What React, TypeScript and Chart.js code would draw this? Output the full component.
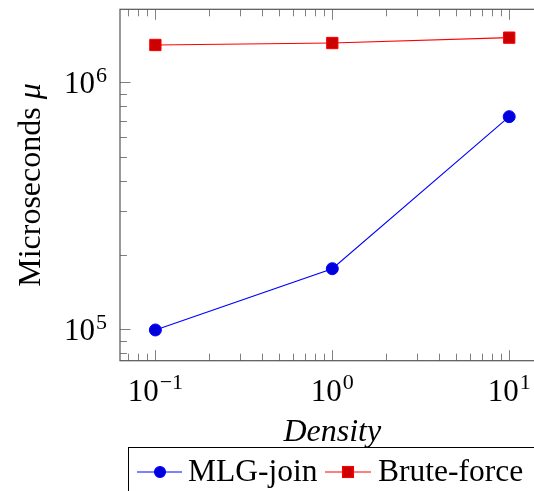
import React, { useEffect, useRef } from 'react';
import { Chart, registerables } from 'chart.js';

Chart.register(...registerables);

// ---- data ----
const densities = [0.1, 1, 10];
const mlgJoin = [9.94e4, 1.76e5, 7.26e5];
const bruteForce = [1.416e6, 1.442e6, 1.516e6];
const seriesLabels = ['MLG-join', 'Brute-force'];
const xTickExponents = [-1, 0, 1];
const yTickExponents = [5, 6];
const xTitle = 'Density';
const yTitleText = 'Microseconds';
const yTitleSymbol = 'μ';

// axis limits (log10)
const X_MIN = Math.pow(10, -1.2);
const X_MAX = Math.pow(10, 1.2);
const Y_MIN = Math.pow(10, 4.873);
const Y_MAX = Math.pow(10, 6.2955);

const SERIF = '"Liberation Serif", "DejaVu Serif", serif';
const AXIS_COLOR = '#555555';
const TICK_COLOR = '#808080';
const BLUE_LINE = '#0000ff';
const BLUE_FILL = '#0000dd';
const RED_LINE = '#ff0000';
const RED_FILL = '#cc0000';

const CANVAS_W = 560;
const CANVAS_H = 491;

function drawPow(ctx: CanvasRenderingContext2D, exp: number, x: number, baseline: number, align: 'center' | 'right') {
  const base = '10';
  const sup = exp < 0 ? '\u2212' + Math.abs(exp) : String(exp);
  ctx.font = `31px ${SERIF}`;
  const wb = ctx.measureText(base).width;
  ctx.font = `22px ${SERIF}`;
  const ws = ctx.measureText(sup).width;
  const total = wb + ws + 1;
  const sx = align === 'center' ? x - total / 2 : x - total;
  ctx.textAlign = 'left';
  ctx.textBaseline = 'alphabetic';
  ctx.font = `31px ${SERIF}`;
  ctx.fillText(base, sx, baseline);
  ctx.font = `22px ${SERIF}`;
  ctx.fillText(sup, sx + wb + 1, baseline - 11.5);
}

const axesPlugin = {
  id: 'pgfAxes',
  beforeDatasetsDraw(chart: any) {
    const { ctx, chartArea } = chart;
    const { left, right, top, bottom } = chartArea;
    const xs = chart.scales.x;
    const ys = chart.scales.y;
    ctx.save();
    ctx.strokeStyle = TICK_COLOR;
    ctx.lineWidth = 1;
    const seg = (x1: number, y1: number, x2: number, y2: number) => {
      ctx.beginPath();
      ctx.moveTo(x1, y1);
      ctx.lineTo(x2, y2);
      ctx.stroke();
    };
    for (let e = -3; e <= 2; e++) {
      for (let m = 1; m <= 9; m++) {
        const v = m * Math.pow(10, e);
        if (v < xs.min || v > xs.max) continue;
        const px = Math.round(xs.getPixelForValue(v)) + 0.5;
        const len = m === 1 ? 10.5 : 7;
        seg(px, bottom, px, bottom - len);
        seg(px, top, px, top + len);
      }
    }
    for (let e = 3; e <= 7; e++) {
      for (let m = 1; m <= 9; m++) {
        const v = m * Math.pow(10, e);
        if (v < ys.min || v > ys.max) continue;
        const py = Math.round(ys.getPixelForValue(v)) + 0.5;
        const len = m === 1 ? 10.5 : 7;
        seg(left, py, left + len, py);
        seg(right, py, right - len, py);
      }
    }
    ctx.strokeStyle = AXIS_COLOR;
    ctx.lineWidth = 1.2;
    ctx.strokeRect(left, top, right - left, bottom - top);
    ctx.restore();
  },
  afterDraw(chart: any) {
    const { ctx, chartArea } = chart;
    const { left, right, top, bottom } = chartArea;
    const xs = chart.scales.x;
    const ys = chart.scales.y;
    ctx.save();
    ctx.fillStyle = '#000000';
    // x tick labels
    xTickExponents.forEach((e) => {
      const px = xs.getPixelForValue(Math.pow(10, e));
      drawPow(ctx, e, px, bottom + 40, 'center');
    });
    // y tick labels
    yTickExponents.forEach((e) => {
      const py = ys.getPixelForValue(Math.pow(10, e));
      drawPow(ctx, e, left - 13, py + 11, 'right');
    });
    // x title
    ctx.font = `italic 32px ${SERIF}`;
    ctx.textAlign = 'center';
    ctx.textBaseline = 'alphabetic';
    ctx.fillText(xTitle, (left + right) / 2, 441);
    // y title (rotated)
    ctx.save();
    ctx.translate(40, (top + bottom) / 2);
    ctx.rotate(-Math.PI / 2);
    ctx.font = `32px ${SERIF}`;
    const w1 = ctx.measureText(yTitleText + ' ').width;
    ctx.font = `italic 32px ${SERIF}`;
    const w2 = ctx.measureText(yTitleSymbol).width;
    const start = -(w1 + w2) / 2;
    ctx.textAlign = 'left';
    ctx.font = `32px ${SERIF}`;
    ctx.fillText(yTitleText, start, 0);
    ctx.font = `italic 32px ${SERIF}`;
    ctx.fillText(yTitleSymbol, start + w1, 0);
    ctx.restore();

    // legend
    const lx = 128.5;
    const ly = 447.5;
    ctx.strokeStyle = '#000000';
    ctx.lineWidth = 1;
    ctx.strokeRect(lx, ly, 600, 100);
    const ry = 472;
    ctx.font = `31.5px ${SERIF}`;
    ctx.textAlign = 'left';
    // item 1
    ctx.strokeStyle = BLUE_LINE;
    ctx.lineWidth = 1.1;
    ctx.beginPath();
    ctx.moveTo(137, ry);
    ctx.lineTo(182, ry);
    ctx.stroke();
    ctx.fillStyle = BLUE_FILL;
    ctx.beginPath();
    ctx.arc(160, ry, 5.5, 0, Math.PI * 2);
    ctx.fill();
    ctx.strokeStyle = BLUE_LINE;
    ctx.stroke();
    ctx.fillStyle = '#000000';
    ctx.fillText(seriesLabels[0], 188, 481);
    // item 2
    ctx.strokeStyle = RED_LINE;
    ctx.beginPath();
    ctx.moveTo(325, ry);
    ctx.lineTo(371, ry);
    ctx.stroke();
    ctx.fillStyle = RED_FILL;
    ctx.fillRect(348 - 5.5, ry - 5.5, 11, 11);
    ctx.strokeRect(348 - 5.5, ry - 5.5, 11, 11);
    ctx.fillStyle = '#000000';
    ctx.fillText(seriesLabels[1], 378, 481);
    ctx.restore();
  },
};

export default function App() {
  const canvasRef = useRef<HTMLCanvasElement | null>(null);

  useEffect(() => {
    const canvas = canvasRef.current;
    if (!canvas) return;
    const chart = new Chart(canvas, {
      type: 'line',
      data: {
        datasets: [
          {
            label: seriesLabels[0],
            data: densities.map((d, i) => ({ x: d, y: mlgJoin[i] })),
            borderColor: BLUE_LINE,
            backgroundColor: BLUE_FILL,
            borderWidth: 1.1,
            pointStyle: 'circle',
            pointRadius: 6,
            pointBackgroundColor: BLUE_FILL,
            pointBorderColor: BLUE_LINE,
            pointBorderWidth: 1,
            tension: 0,
          },
          {
            label: seriesLabels[1],
            data: densities.map((d, i) => ({ x: d, y: bruteForce[i] })),
            borderColor: RED_LINE,
            backgroundColor: RED_FILL,
            borderWidth: 1.1,
            pointStyle: 'rect',
            pointRadius: 8,
            pointBackgroundColor: RED_FILL,
            pointBorderColor: RED_LINE,
            pointBorderWidth: 1,
            tension: 0,
          },
        ],
      },
      options: {
        animation: false,
        responsive: false,
        maintainAspectRatio: false,
        devicePixelRatio: 1,
        layout: {
          padding: { left: 120, right: CANVAS_W - 544.6, top: 9.3, bottom: CANVAS_H - 360.7 },
        },
        scales: {
          x: { type: 'logarithmic', min: X_MIN, max: X_MAX, display: false },
          y: { type: 'logarithmic', min: Y_MIN, max: Y_MAX, display: false },
        },
        plugins: {
          legend: { display: false },
          tooltip: { enabled: false },
        },
      },
      plugins: [axesPlugin],
    });
    return () => chart.destroy();
  }, []);

  return (
    <div
      style={{
        position: 'fixed',
        left: 0,
        top: 0,
        width: 534,
        height: 491,
        overflow: 'hidden',
        background: '#ffffff',
      }}
    >
      <canvas
        ref={canvasRef}
        width={CANVAS_W}
        height={CANVAS_H}
        style={{ display: 'block', width: CANVAS_W, height: CANVAS_H }}
      />
    </div>
  );
}
